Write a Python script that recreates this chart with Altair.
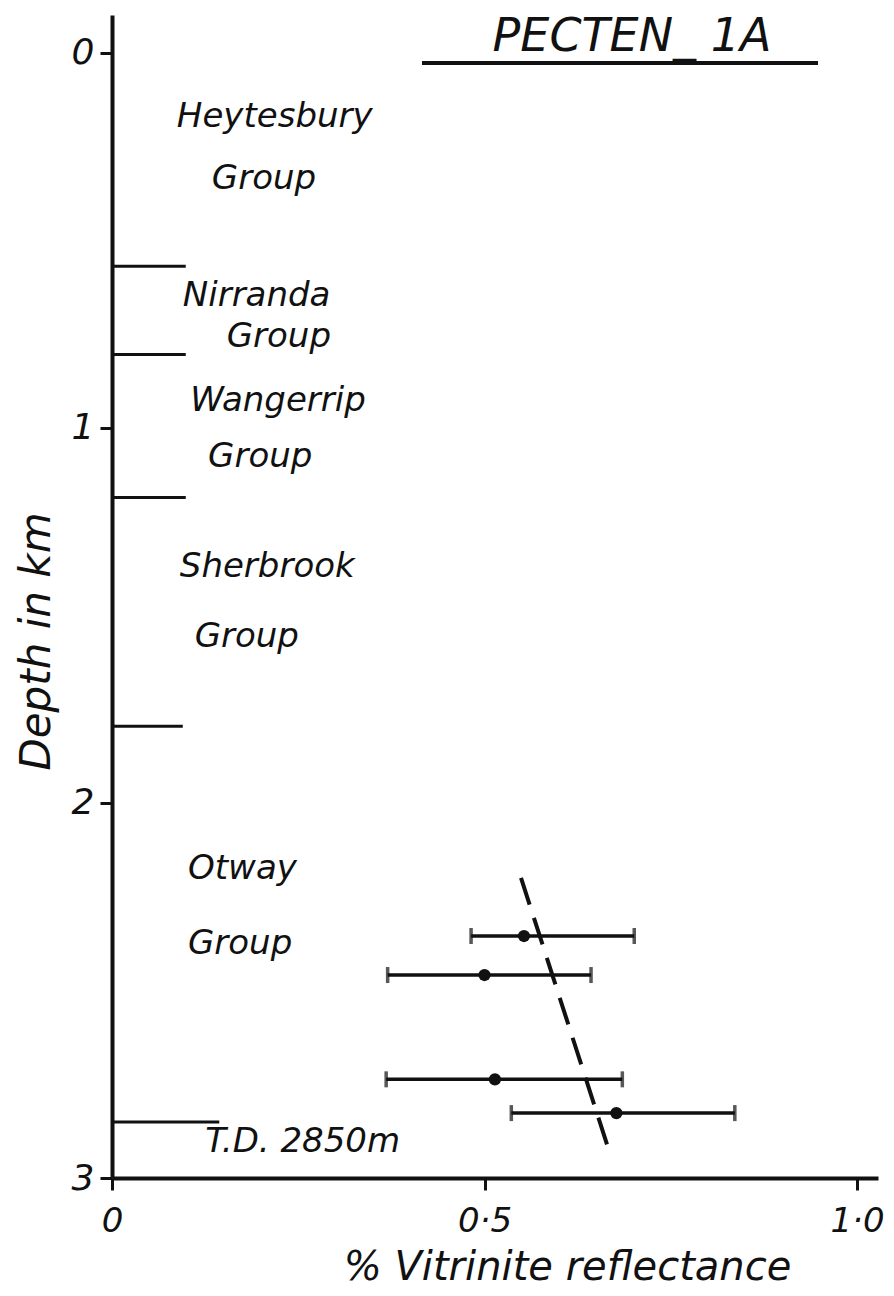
import altair as alt
import pandas as pd

# ---- data ----
depth_km = [2.355, 2.459, 2.737, 2.827]
vr_mean = [0.553, 0.500, 0.514, 0.677]
vr_low = [0.482, 0.370, 0.368, 0.536]
vr_high = [0.701, 0.643, 0.685, 0.836]

trend_vr = [0.549, 0.666]
trend_depth = [2.20, 2.92]

boundary_depth = [0.570, 0.805, 1.186, 1.796, 2.851]
boundary_len = [0.099, 0.099, 0.099, 0.095, 0.144]

label_text = ["Heytesbury", "Group", "Nirranda", "Group", "Wangerrip", "Group",
              "Sherbrook", "Group", "Otway", "Group", "T.D. 2850m"]
label_vr = [0.087, 0.134, 0.095, 0.154, 0.105, 0.129, 0.091, 0.111, 0.102, 0.102, 0.125]
label_depth = [0.171, 0.338, 0.650, 0.757, 0.930, 1.079, 1.372, 1.559, 2.177, 2.377, 2.904]

x_ticks = [0, 0.5, 1.0]
y_ticks = [0, 1, 2, 3]
title_text = "PECTEN_ 1A"

FONT = "DejaVu Sans"
INK = "#111111"
W, H = 766, 1163

pts = pd.DataFrame({"depth": depth_km, "vr": vr_mean, "lo": vr_low, "hi": vr_high})
caps = pd.DataFrame({"depth": depth_km * 2, "vr": vr_low + vr_high})
trend = pd.DataFrame({"vr": trend_vr, "depth": trend_depth})
bounds = pd.DataFrame({"depth": boundary_depth, "x0": [0.0] * len(boundary_depth), "x1": boundary_len})
labels = pd.DataFrame({"text": label_text, "vr": label_vr, "depth": label_depth})

xs = alt.Scale(domain=[0, W / 745.0], nice=False, zero=False)
ys = alt.Scale(domain=[-0.1, 3.0], reverse=True, nice=False, zero=False)

x_axis = alt.Axis(
    values=x_ticks, grid=False, tickSize=12, tickWidth=3, tickColor=INK,
    domainWidth=4, domainColor=INK, labelFont=FONT, labelFontSize=34,
    labelFontStyle="italic", labelColor=INK, labelPadding=14, labelFlush=False,
    labelExpr="datum.value == 0 ? '0' : replace(format(datum.value, '.1f'), '.', '·')",
    title="% Vitrinite reflectance", titleFont=FONT, titleFontSize=40,
    titleFontStyle="italic", titleFontWeight="normal", titleColor=INK,
    titleX=455, titleY=89, titleBaseline="middle", titleAlign="center",
)
y_axis = alt.Axis(
    values=y_ticks, grid=False, tickSize=12, tickWidth=3, tickColor=INK,
    domainWidth=4, domainColor=INK, labelFont=FONT, labelFontSize=36,
    labelFontStyle="italic", labelColor=INK, labelPadding=6, labelFlush=False,
    labelExpr="format(datum.value, 'd')",
    title="Depth in km", titleFont=FONT, titleFontSize=42,
    titleFontStyle="italic", titleFontWeight="normal", titleColor=INK,
    titleX=-76, titleY=626, titleBaseline="middle", titleAlign="center", titleAngle=270,
)

base_axes = alt.Chart(pts).mark_point(opacity=0).encode(
    x=alt.X("vr:Q", scale=xs, axis=x_axis),
    y=alt.Y("depth:Q", scale=ys, axis=y_axis),
)

bound_rules = alt.Chart(bounds).mark_rule(color=INK, strokeWidth=3).encode(
    x=alt.X("x0:Q", scale=xs), x2="x1:Q", y=alt.Y("depth:Q", scale=ys)
)

err_rules = alt.Chart(pts).mark_rule(color=INK, strokeWidth=3.5).encode(
    x=alt.X("lo:Q", scale=xs), x2="hi:Q", y=alt.Y("depth:Q", scale=ys)
)

err_caps = alt.Chart(caps).mark_tick(color=INK, orient="vertical", size=16, thickness=3.5).encode(
    x=alt.X("vr:Q", scale=xs), y=alt.Y("depth:Q", scale=ys)
)

dots = alt.Chart(pts).mark_circle(color=INK, size=150, opacity=1).encode(
    x=alt.X("vr:Q", scale=xs), y=alt.Y("depth:Q", scale=ys)
)

trend_line = alt.Chart(trend).mark_line(color=INK, strokeWidth=4, strokeDash=[28, 14]).encode(
    x=alt.X("vr:Q", scale=xs), y=alt.Y("depth:Q", scale=ys)
)

label_marks = alt.Chart(labels).mark_text(
    font=FONT, fontSize=34, fontStyle="italic", color=INK, align="left", baseline="middle"
).encode(
    x=alt.X("vr:Q", scale=xs), y=alt.Y("depth:Q", scale=ys), text="text:N"
)

title_mark = alt.Chart(pd.DataFrame({"t": [title_text]})).mark_text(
    font=FONT, fontSize=46, fontStyle="italic", color=INK, align="center", baseline="alphabetic"
).encode(x=alt.value(520), y=alt.value(36), text="t:N")

underline = alt.Chart(pd.DataFrame({"t": [title_text]})).mark_rule(color=INK, strokeWidth=4).encode(
    x=alt.value(310), x2=alt.value(706), y=alt.value(48)
)

chart = alt.layer(
    base_axes, bound_rules, err_rules, err_caps, dots, trend_line, label_marks, title_mark, underline
).properties(
    width=W, height=H,
    autosize=alt.AutoSizeParams(type="none"),
    padding={"left": 104, "top": 7, "right": 8, "bottom": 110},
    background="white",
).configure_view(stroke=None)

chart.save("out.html", embed_options={"renderer": "svg", "actions": False})
